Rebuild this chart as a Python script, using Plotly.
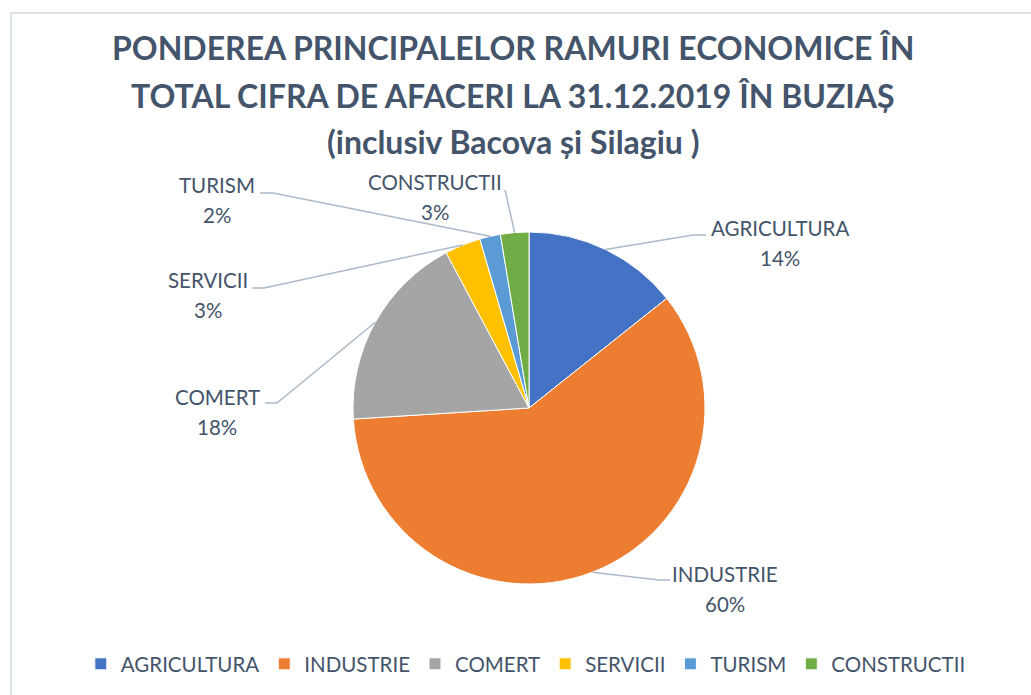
import math
import plotly.graph_objects as go

W, H = 1031, 695

categories = ["AGRICULTURA", "INDUSTRIE", "COMERT", "SERVICII", "TURISM", "CONSTRUCTII"]
values = [14.3, 59.7, 18.2, 3.3, 1.9, 2.6]
colors = ["#4472C4", "#ED7D31", "#A5A5A5", "#FFC000", "#5B9BD5", "#70AD47"]

title_lines = [
    "PONDEREA PRINCIPALELOR RAMURI ECONOMICE ÎN",
    "TOTAL CIFRA DE AFACERI LA 31.12.2019 ÎN BUZIAȘ",
    "(inclusiv Bacova și Silagiu )",
]

TEXT_COLOR = "#44546A"
FONT = "Lato"

# pie geometry (pixels)
CX, CY, R = 529, 408, 176

# label layout (pixels): label centre, elbow point, line end near text
label_layout = {
    "AGRICULTURA": dict(tx=780, ty=243, elbow=(693, 235), end=(706, 235)),
    "INDUSTRIE": dict(tx=725, ty=589, elbow=(659, 580), end=(670, 580)),
    "COMERT": dict(tx=217, ty=412, elbow=(277, 403), end=(265, 403)),
    "SERVICII": dict(tx=208, ty=295, elbow=(264, 288), end=(252, 288)),
    "TURISM": dict(tx=217, ty=200, elbow=(273, 193), end=(260, 193)),
    "CONSTRUCTII": dict(tx=435, ty=197, elbow=(505, 190), end=(505, 190)),
}


def px(x):
    return x / W


def py(y):
    return 1 - y / H


fig = go.Figure()
fig.add_trace(go.Pie(
    labels=categories,
    values=values,
    sort=False,
    direction="clockwise",
    rotation=0,
    marker=dict(colors=colors, line=dict(color="white", width=1)),
    textinfo="none",
    hoverinfo="label+percent",
    domain=dict(x=[px(CX - R), px(CX + R)], y=[py(CY + R), py(CY - R)]),
))

total = sum(values)
cum = 0.0
shapes = []
annotations = []
label_font = dict(family=FONT, size=20.5, color=TEXT_COLOR)
for cat, v in zip(categories, values):
    mid = (cum + v / 2) / total * 2 * math.pi
    cum += v
    sx = CX + R * math.sin(mid)
    sy = CY - R * math.cos(mid)
    lay = label_layout[cat]
    ex, ey = lay["elbow"]
    fx, fy = lay["end"]
    path = f"M {px(sx)} {py(sy)} L {px(ex)} {py(ey)} L {px(fx)} {py(fy)}"
    shapes.append(dict(type="path", xref="paper", yref="paper", path=path,
                       line=dict(color="#ADB9CA", width=1.5)))
    pct = round(v / total * 100)
    annotations.append(dict(
        x=px(lay["tx"]), y=py(lay["ty"] - 15), xref="paper", yref="paper",
        text=cat, showarrow=False, xanchor="center", yanchor="middle", font=label_font,
    ))
    annotations.append(dict(
        x=px(lay["tx"]), y=py(lay["ty"] + 15), xref="paper", yref="paper",
        text=f"{pct}%", showarrow=False, xanchor="center", yanchor="middle", font=label_font,
    ))

title_y = [48, 95, 141]
for line, ty in zip(title_lines, title_y):
    annotations.append(dict(
        x=px(513), y=py(ty), xref="paper", yref="paper", text=f"<b>{line}</b>",
        showarrow=False, xanchor="center", yanchor="middle",
        font=dict(family=FONT, size=32, color=TEXT_COLOR),
    ))

# chart border
shapes.append(dict(type="rect", xref="paper", yref="paper",
                   x0=px(11), y0=py(H + 10), x1=px(W + 10), y1=py(13),
                   line=dict(color="#DDE2E9", width=2), fillcolor="rgba(0,0,0,0)", layer="below"))

fig.update_layout(
    width=W, height=H,
    margin=dict(l=0, r=0, t=0, b=0),
    paper_bgcolor="white",
    plot_bgcolor="white",
    showlegend=True,
    legend=dict(orientation="h", x=0.51, xanchor="center", y=py(664), yanchor="middle",
                font=dict(family=FONT, size=20.5, color=TEXT_COLOR), traceorder="normal",
                itemwidth=30),
    shapes=shapes,
    annotations=annotations,
)

fig.write_html("out.html", config={"displayModeBar": False},
               post_script="document.body.style.margin='0';")
